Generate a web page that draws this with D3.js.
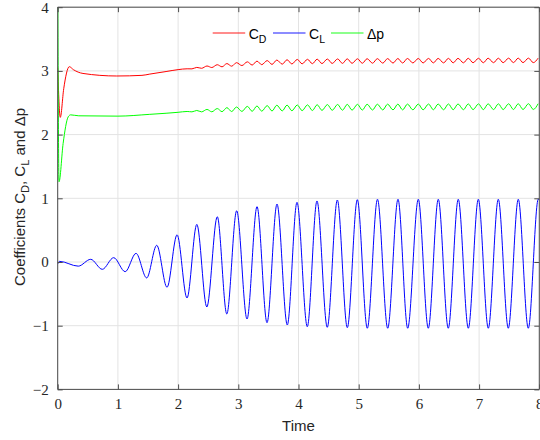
<!DOCTYPE html>
<html>
<head>
<meta charset="utf-8">
<script src="https://cdn.jsdelivr.net/npm/d3@7"></script>
<style>
  html, body { margin: 0; padding: 0; background: #fff; }
  svg { display: block; }
</style>
</head>
<body>
<div id="chart"></div>
<script>
// ---------------- DATA ----------------
const xTicks = [0, 1, 2, 3, 4, 5, 6, 7, 8];
const yTicks = [-2, -1, 0, 1, 2, 3, 4];
const seriesNames = ["C_D", "C_L", "Δp"];

// Lift coefficient C_L : times and values of its turning points
const clT = [0, 0.03, 0.342, 0.548, 0.741, 0.930, 1.121, 1.301, 1.478, 1.645, 1.816, 1.983,
  2.148, 2.311, 2.477, 2.651, 2.809, 2.973, 3.145, 3.311, 3.477, 3.643, 3.814, 3.975,
  4.146, 4.307, 4.478, 4.645, 4.811, 4.977, 5.143, 5.312, 5.482, 5.653, 5.814, 5.990,
  6.156, 6.322, 6.488, 6.654, 6.821, 6.987, 7.153, 7.319, 7.485, 7.651, 7.817, 7.983, 8.0];
const clV = [-0.03, 0.01, -0.065, 0.042, -0.115, 0.068, -0.152, 0.136, -0.25, 0.262, -0.397, 0.427,
  -0.565, 0.59, -0.706, 0.711, -0.816, 0.805, -0.895, 0.868, -0.953, 0.91, -0.989, 0.937,
  -1.016, 0.958, -1.025, 0.973, -1.031, 0.978, -1.04, 0.985, -1.04, 0.985, -1.04, 0.985,
  -1.04, 0.985, -1.04, 0.985, -1.04, 0.985, -1.04, 0.985, -1.04, 0.985, -1.04, 0.985, 0.98];

// Start-up transients of C_D and Δp
const cdStartT = [0, 0.043, 0.10, 0.193, 0.26, 0.42, 0.98, 1.4, 1.53, 1.8, 2.0];
const cdStartV = [3.05, 2.27, 2.72, 3.066, 3.02, 2.96, 2.92, 2.93, 2.95, 2.99, 3.02];
const dpStartT = [0, 0.022, 0.09, 0.175, 0.215, 0.35, 1.0, 1.53, 1.8, 2.0];
const dpStartV = [4.6, 1.26, 1.86, 2.28, 2.31, 2.295, 2.29, 2.318, 2.335, 2.35];

// Turning points of the small C_D and Δp oscillations (shared times)
const oscT = [2.15, 2.23, 2.31, 2.39, 2.48, 2.56, 2.65, 2.73, 2.81, 2.89, 2.97, 3.06, 3.15, 3.23,
  3.31, 3.39, 3.48, 3.56, 3.64, 3.73, 3.81, 3.89, 3.98, 4.06, 4.15, 4.23, 4.31, 4.39, 4.48, 4.56,
  4.65, 4.73, 4.81, 4.89, 4.98, 5.06, 5.14, 5.23, 5.31, 5.40, 5.48, 5.57, 5.65, 5.73, 5.81, 5.90,
  5.99, 6.07, 6.16, 6.24, 6.32, 6.41, 6.49, 6.57, 6.65, 6.74, 6.82, 6.90, 6.99, 7.07, 7.15, 7.24,
  7.32, 7.40, 7.49, 7.57, 7.65, 7.73, 7.82, 7.90, 7.98];
const cdOscV = [3.033, 3.032, 3.055, 3.041, 3.077, 3.053, 3.097, 3.064, 3.115, 3.074, 3.129, 3.084,
  3.142, 3.092, 3.153, 3.098, 3.162, 3.102, 3.170, 3.106, 3.175, 3.109, 3.180, 3.111, 3.182, 3.113,
  3.184, 3.115, 3.186, 3.117, 3.188, 3.118, 3.189, 3.119, 3.190, 3.120, 3.191, 3.121, 3.192, 3.122,
  3.193, 3.123, 3.194, 3.124, 3.195, 3.125, 3.195, 3.125, 3.196, 3.126, 3.196, 3.126, 3.197, 3.127,
  3.197, 3.127, 3.198, 3.128, 3.198, 3.128, 3.199, 3.129, 3.199, 3.129, 3.200, 3.130, 3.200, 3.130,
  3.200, 3.130, 3.200];
const dpOscV = [2.363, 2.357, 2.379, 2.357, 2.395, 2.358, 2.409, 2.360, 2.423, 2.362, 2.433, 2.364,
  2.443, 2.366, 2.449, 2.368, 2.455, 2.370, 2.461, 2.372, 2.463, 2.374, 2.465, 2.376, 2.467, 2.378,
  2.469, 2.380, 2.471, 2.382, 2.473, 2.383, 2.474, 2.384, 2.475, 2.385, 2.476, 2.386, 2.477, 2.387,
  2.478, 2.388, 2.478, 2.388, 2.479, 2.389, 2.479, 2.389, 2.480, 2.390, 2.480, 2.390, 2.481, 2.391,
  2.481, 2.391, 2.482, 2.392, 2.482, 2.392, 2.483, 2.393, 2.483, 2.393, 2.484, 2.394, 2.484, 2.394,
  2.485, 2.395, 2.485];

// ---------------- LAYOUT ----------------
const W = 540, H = 440;
const plot = { left: 57.7, right: 539.3, top: 7.2, bottom: 389.4 };

const svg = d3.select("#chart").append("svg")
  .attr("width", W).attr("height", H)
  .style("font-family", "'Liberation Sans', Arial, sans-serif");

const x = d3.scaleLinear().domain([0, 8]).range([plot.left, plot.right]);
const y = d3.scaleLinear().domain([-2, 4]).range([plot.bottom, plot.top]);

const zip = (ts, vs) => ts.map((t, i) => [t, vs[i]]);
const cdData = zip(cdStartT, cdStartV).concat(zip(oscT, cdOscV));
const dpData = zip(dpStartT, dpStartV).concat(zip(oscT, dpOscV));
const clData = zip(clT, clV);

const axisColor = "#4d4d4d";
const gridColor = "#e3e3e3";
const tickFont = "'Liberation Serif', 'Times New Roman', serif";
const RED = "#ff0000", BLUE = "#0000ff", GREEN = "#00ff00";

// grid
const grid = svg.append("g");
grid.selectAll("line.gx").data(xTicks).join("line").attr("class", "gx")
  .attr("x1", d => x(d)).attr("x2", d => x(d))
  .attr("y1", plot.top).attr("y2", plot.bottom)
  .attr("stroke", gridColor).attr("stroke-width", 1);
grid.selectAll("line.gy").data(yTicks).join("line").attr("class", "gy")
  .attr("x1", plot.left).attr("x2", plot.right)
  .attr("y1", d => y(d)).attr("y2", d => y(d))
  .attr("stroke", gridColor).attr("stroke-width", 1);

// clip
svg.append("clipPath").attr("id", "clip").append("rect")
  .attr("x", plot.left).attr("y", plot.top)
  .attr("width", plot.right - plot.left).attr("height", plot.bottom - plot.top);

const line = d3.line().x(d => x(d[0])).y(d => y(d[1])).curve(d3.curveMonotoneX);
const lines = svg.append("g").attr("clip-path", "url(#clip)");
lines.append("path").datum(cdData).attr("d", line)
  .attr("fill", "none").attr("stroke", RED).attr("stroke-width", 1);
lines.append("path").datum(clData).attr("d", line)
  .attr("fill", "none").attr("stroke", BLUE).attr("stroke-width", 1);
lines.append("path").datum(dpData).attr("d", line)
  .attr("fill", "none").attr("stroke", GREEN).attr("stroke-width", 1);

// axes (MATLAB box with inward ticks)
const tickLen = 5;
const bottomAxis = d3.axisBottom(x).tickValues(xTicks).tickSize(-tickLen).tickPadding(9).tickFormat(d3.format("d"));
const topAxis = d3.axisTop(x).tickValues(xTicks).tickSize(-tickLen).tickFormat("");
const leftAxis = d3.axisLeft(y).tickValues(yTicks).tickSize(-tickLen).tickPadding(9).tickFormat(d3.format("d"));
const rightAxis = d3.axisRight(y).tickValues(yTicks).tickSize(-tickLen).tickFormat("");

function styleAxis(g) {
  g.select(".domain").attr("stroke", axisColor);
  g.selectAll(".tick line").attr("stroke", axisColor);
  g.selectAll(".tick text").attr("fill", "#262626")
    .style("font-family", tickFont).style("font-size", "15px");
}
svg.append("g").attr("transform", `translate(0,${plot.bottom})`).call(bottomAxis).call(styleAxis)
  .call(g => g.select(".domain").attr("d", `M${plot.left},0H${plot.right}`));
svg.append("g").attr("transform", `translate(0,${plot.top})`).call(topAxis).call(styleAxis)
  .call(g => g.select(".domain").attr("d", `M${plot.left},0H${plot.right}`));
svg.append("g").attr("transform", `translate(${plot.left},0)`).call(leftAxis).call(styleAxis)
  .call(g => g.select(".domain").attr("d", `M0,${plot.top}V${plot.bottom}`));
svg.append("g").attr("transform", `translate(${plot.right},0)`).call(rightAxis).call(styleAxis)
  .call(g => g.select(".domain").attr("d", `M0,${plot.top}V${plot.bottom}`));

// axis titles
svg.append("text").attr("x", (plot.left + plot.right) / 2).attr("y", 431)
  .attr("text-anchor", "middle").attr("fill", "#262626").style("font-size", "15px").text("Time");

const yl = svg.append("text").attr("transform", `translate(25,197) rotate(-90)`)
  .attr("text-anchor", "middle").attr("fill", "#262626").style("font-size", "15px");
yl.append("tspan").text("Coefficients C");
yl.append("tspan").attr("dy", 4).style("font-size", "11px").text("D");
yl.append("tspan").attr("dy", -4).text(", C");
yl.append("tspan").attr("dy", 4).style("font-size", "11px").text("L");
yl.append("tspan").attr("dy", -4).text(" and Δp");

// legend (no box, inside the plot)
const legendItems = [
  { color: RED, base: "C", sub: "D", x0: 212.7 },
  { color: BLUE, base: "C", sub: "L", x0: 273 },
  { color: GREEN, base: "Δp", sub: null, x0: 331 }
];
const lg = svg.append("g").attr("class", "legend");
const ly = 33;
legendItems.forEach(it => {
  lg.append("rect")
    .attr("x", it.x0).attr("y", ly - 0.6)
    .attr("width", 32.5).attr("height", 1.2)
    .attr("fill", it.color).attr("fill-opacity", 0.75);
  const t = lg.append("text").attr("x", it.x0 + 36).attr("y", ly + 5.5)
    .attr("fill", "#000").style("font-size", "14px");
  t.append("tspan").text(it.base);
  if (it.sub) t.append("tspan").attr("dy", 4).style("font-size", "10.5px").text(it.sub);
});
</script>
</body>
</html>
